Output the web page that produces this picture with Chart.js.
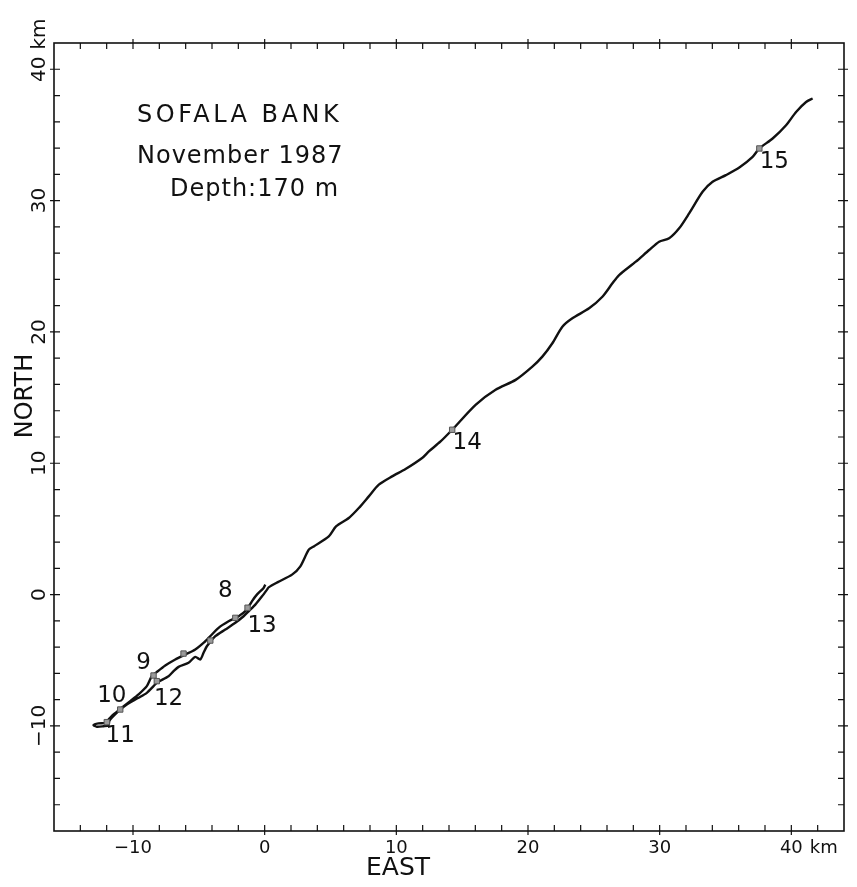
<!DOCTYPE html>
<html>
<head>
<meta charset="utf-8">
<script src="https://cdn.jsdelivr.net/npm/chart.js@4.4.1/dist/chart.umd.min.js"></script>
<style>
  html, body { margin: 0; background: #fff; }
  #wrap { width: 857px; height: 887px; position: relative; }
</style>
</head>
<body>
<div id="wrap"><canvas id="chart"></canvas></div>
<script>
// progressive vector track, km east / km north of the mooring
const trackX = [0.05, -0.08, -0.59, -0.97, -1.35, -1.98, -2.74, -3.5, -4.26, -4.51, -5.27, -6.03, -6.79, -7.55, -8.2, -8.57,
  -8.95, -9.58, -10.21, -10.85, -11.48, -11.86, -12.11, -12.62, -13.0, -12.75, -12.24, -11.86, -11.8,
  -11.61, -11.1, -10.47, -9.58, -8.95, -8.44, -8.19, -7.3, -6.92, -6.54, -5.78, -5.27, -4.89, -4.64, -4.39,
  -3.75, -2.99, -2.23, -1.6, -1.22, -0.71, -0.2, 0.18, 0.3,
  1.0, 2.08, 2.71, 3.35, 3.73, 4.87, 5.42, 6.39, 7.15, 7.91, 8.67, 9.68, 10.7, 11.96, 12.47, 13.36, 14.24,
  16.02, 17.54, 19.06, 20.33, 21.09, 21.85, 22.61, 23.37, 24.64, 25.65, 26.41, 26.92, 28.19, 29.2, 29.96,
  30.72, 31.48, 32.24, 33.26, 34.02, 35.03, 36.05, 37.06, 37.57, 38.58, 39.6, 40.36, 41.12, 41.62];
const trackY = [0.76, 0.51, 0.0, -0.51, -1.14, -1.65, -2.03, -2.53, -3.3, -3.55, -4.18, -4.56, -4.94, -5.4, -5.9, -6.21,
  -6.97, -7.6, -8.11, -8.62, -9.13, -9.51, -9.76, -9.81, -9.94, -10.06, -10.02, -9.96, -9.63,
  -9.38, -8.87, -8.37, -7.86, -7.48, -6.97, -6.71, -6.21, -5.83, -5.5, -5.19, -4.74, -4.94, -4.43, -3.93,
  -3.17, -2.66, -2.15, -1.65, -1.27, -0.76, -0.13, 0.38, 0.55,
  0.95, 1.52, 2.15, 3.42, 3.67, 4.43, 5.19, 5.83, 6.59, 7.48, 8.37, 9.0, 9.56, 10.4, 10.9, 11.66, 12.55,
  14.45, 15.59, 16.35, 17.36, 18.12, 19.14, 20.4, 21.04, 21.8, 22.68, 23.7, 24.33, 25.35, 26.24, 26.87,
  27.13, 27.89, 29.03, 30.67, 31.43, 31.94, 32.52, 33.33, 33.97, 34.73, 35.74, 36.75, 37.51, 37.77];

// daily position marks
const markX = [-1.3, -2.23, -4.13, -6.16, -8.44, -8.19, -10.97, -11.99, 14.24, 37.57];
const markY = [-1.0, -1.77, -3.5, -4.49, -6.16, -6.59, -8.75, -9.71, 12.55, 33.97];

// day numbers and where they sit
const dayLabels = ['8', '9', '10', '11', '12', '13', '14', '15'];
const dayLabelX = [-2.99, -9.2, -11.61, -10.97, -7.3, -0.2, 15.38, 38.71];
const dayLabelY = [0.25, -5.19, -7.73, -10.78, -7.98, -2.41, 11.54, 32.95];

const xTickLabels = [-10, 0, 10, 20, 30, 40];
const yTickLabels = [-10, 0, 10, 20, 30, 40];
const titleLines = ['SOFALA BANK', 'November 1987', 'Depth:170 m'];

const ink = '#111';
const FONT = '"DejaVu Sans", sans-serif';

const frameAndText = {
  id: 'frameAndText',
  afterDraw(chart) {
    const { ctx, chartArea: a, scales: { x, y } } = chart;
    ctx.save();
    ctx.strokeStyle = ink;
    ctx.fillStyle = ink;

    // frame
    ctx.lineWidth = 1.6;
    ctx.strokeRect(a.left, a.top, a.right - a.left, a.bottom - a.top);

    // tick marks, every 2 km, inward; majors poke outside too
    ctx.lineWidth = 1.2;
    ctx.beginPath();
    for (let v = x.min + 2; v < x.max; v += 2) {
      const px = x.getPixelForValue(v);
      const out = v % 10 === 0 ? 4 : 0;
      ctx.moveTo(px, a.bottom + out); ctx.lineTo(px, a.bottom - 6);
      ctx.moveTo(px, a.top - out); ctx.lineTo(px, a.top + 6);
    }
    for (let v = y.min + 2; v < y.max; v += 2) {
      const py = y.getPixelForValue(v);
      const out = v % 10 === 0 ? 4 : 0;
      ctx.moveTo(a.left - out, py); ctx.lineTo(a.left + 6, py);
      ctx.moveTo(a.right + out, py); ctx.lineTo(a.right - 6, py);
    }
    ctx.stroke();

    // x tick labels
    ctx.font = '18px ' + FONT;
    ctx.textAlign = 'center';
    ctx.textBaseline = 'alphabetic';
    xTickLabels.forEach(v => {
      const px = x.getPixelForValue(v);
      const s = v < 0 ? '\u2212' + Math.abs(v) : String(v);
      ctx.fillText(s, px, a.bottom + 22);
      if (v === 40) {
        ctx.textAlign = 'left';
        ctx.fillText('km', px + ctx.measureText(s).width / 2 + 7, a.bottom + 22);
        ctx.textAlign = 'center';
      }
    });

    // y tick labels, rotated
    ctx.font = '20px ' + FONT;
    yTickLabels.forEach(v => {
      const py = y.getPixelForValue(v);
      const s = v < 0 ? '\u2212' + Math.abs(v) : String(v);
      ctx.save();
      ctx.translate(a.left - 9, py);
      ctx.rotate(-Math.PI / 2);
      ctx.textAlign = 'center';
      ctx.fillText(s, 0, 0);
      if (v === 40) {
        ctx.textAlign = 'left';
        ctx.fillText('km', ctx.measureText(s).width / 2 + 7, 0);
      }
      ctx.restore();
    });

    // axis titles
    ctx.font = '25px ' + FONT;
    ctx.textAlign = 'center';
    ctx.fillText('EAST', 398, 875);
    ctx.save();
    ctx.translate(32, 396);
    ctx.rotate(-Math.PI / 2);
    ctx.font = '24px ' + FONT;
    ctx.fillText('NORTH', 0, 0);
    ctx.restore();

    // title block
    ctx.textAlign = 'left';
    ctx.font = '24px ' + FONT;
    if ('letterSpacing' in ctx) ctx.letterSpacing = '3.5px';
    ctx.fillText(titleLines[0], 137, 122);
    if ('letterSpacing' in ctx) ctx.letterSpacing = '1px';
    ctx.fillText(titleLines[1], 137, 163);
    ctx.fillText(titleLines[2], 170, 196);
    if ('letterSpacing' in ctx) ctx.letterSpacing = '0px';

    // day numbers
    ctx.font = '23px ' + FONT;
    ctx.textAlign = 'center';
    ctx.textBaseline = 'middle';
    dayLabels.forEach((s, i) => {
      ctx.fillText(s, x.getPixelForValue(dayLabelX[i]), y.getPixelForValue(dayLabelY[i]));
    });
    ctx.restore();
  }
};

const chart = new Chart(document.getElementById('chart'), {
  type: 'scatter',
  data: {
    datasets: [
      {
        data: markX.map((v, i) => ({ x: v, y: markY[i] })),
        pointStyle: 'rect',
        pointRadius: 3.8,
        backgroundColor: '#9a9a9a',
        borderColor: '#555',
        borderWidth: 1,
        showLine: false
      },
      {
        data: trackX.map((v, i) => ({ x: v, y: trackY[i] })),
        showLine: true,
        borderColor: ink,
        borderWidth: 2.4,
        pointRadius: 0,
        tension: 0.25,
        fill: false
      }
    ]
  },
  options: {
    animation: false,
    responsive: true,
    maintainAspectRatio: false,
    layout: { padding: { left: 54, top: 43, right: 13, bottom: 56 } },
    scales: {
      x: { type: 'linear', display: false, min: -16, max: 44 },
      y: { type: 'linear', display: false, min: -18, max: 42 }
    },
    plugins: { legend: { display: false }, tooltip: { enabled: false } }
  },
  plugins: [frameAndText]
});
</script>
</body>
</html>
